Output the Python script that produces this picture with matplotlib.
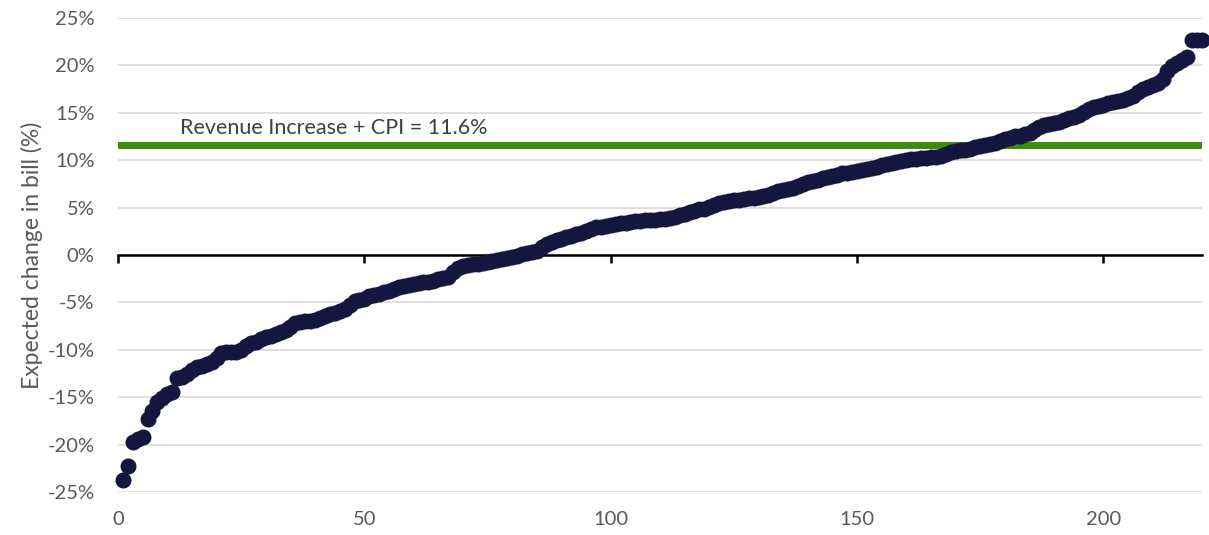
import matplotlib.pyplot as plt
from matplotlib.ticker import FuncFormatter

# expected change in bill (%) for each customer, sorted
bill_change = [
    -23.7, -22.3, -19.7, -19.4, -19.2, -17.3, -16.5, -15.5, -15.1, -14.7,
    -14.5, -13.0, -12.9, -12.6, -12.1, -11.8, -11.7, -11.5, -11.3, -10.9,
    -10.3, -10.2, -10.2, -10.2, -10.0, -9.6, -9.3, -9.2, -8.9, -8.7,
    -8.5, -8.3, -8.1, -7.9, -7.6, -7.2, -7.1, -7.0, -7.0, -6.9,
    -6.7, -6.4, -6.2, -6.1, -5.9, -5.7, -5.3, -4.9, -4.7, -4.6,
    -4.3, -4.2, -4.1, -3.9, -3.8, -3.6, -3.4, -3.3, -3.2, -3.1,
    -3.0, -2.9, -2.8, -2.7, -2.5, -2.4, -2.3, -1.8, -1.4, -1.2,
    -1.1, -1.0, -0.9, -0.8, -0.7, -0.6, -0.5, -0.4, -0.3, -0.2,
    -0.1, 0.1, 0.2, 0.3, 0.4, 0.8, 1.2, 1.4, 1.6, 1.7,
    1.9, 2.0, 2.2, 2.3, 2.5, 2.7, 2.9, 3.0, 3.1, 3.2,
    3.3, 3.35, 3.4, 3.5, 3.55, 3.6, 3.65, 3.7, 3.7, 3.75,
    3.8, 3.9, 4.0, 4.2, 4.3, 4.5, 4.6, 4.8, 4.9, 5.1,
    5.3, 5.5, 5.6, 5.7, 5.75, 5.8, 5.9, 6.0, 6.05, 6.1,
    6.2, 6.3, 6.5, 6.7, 6.9, 7.0, 7.1, 7.3, 7.5, 7.7,
    7.8, 7.9, 8.1, 8.2, 8.3, 8.4, 8.6, 8.7, 8.8, 8.9,
    9.0, 9.1, 9.2, 9.3, 9.5, 9.6, 9.7, 9.8, 9.9, 10.0,
    10.1, 10.15, 10.2, 10.25, 10.3, 10.35, 10.4, 10.6, 10.9, 11.0,
    11.05, 11.1, 11.2, 11.4, 11.5, 11.6, 11.7, 11.8, 12.0, 12.2,
    12.3, 12.5, 12.6, 12.8, 12.9, 13.2, 13.5, 13.7, 13.8, 13.9,
    14.0, 14.2, 14.4, 14.6, 14.8, 15.1, 15.4, 15.6, 15.7, 15.8,
    16.0, 16.1, 16.2, 16.4, 16.6, 16.8, 17.2, 17.5, 17.7, 17.9,
    18.1, 18.6, 19.4, 19.9, 20.3, 20.6, 20.9, 22.7, 22.7, 22.7,
]
customer = list(range(1, len(bill_change) + 1))
threshold = 11.6
threshold_label = 'Revenue Increase + CPI = 11.6%'
x_ticks = [0, 50, 100, 150, 200]
y_ticks = [-25, -20, -15, -10, -5, 0, 5, 10, 15, 20, 25]

plt.rcParams['font.family'] = ['Lato', 'DejaVu Sans']
grey = '#595959'

fig = plt.figure(figsize=(12.09, 5.35), dpi=100)
ax = fig.add_axes([0.0976, 0.0804, 0.8966, 0.886])

ax.set_xlim(0, 220)
ax.set_ylim(-25, 25)
ax.set_yticks(y_ticks)
ax.yaxis.set_major_formatter(FuncFormatter(lambda v, p: '%d%%' % v))
ax.grid(axis='y', color='#d9d9d9', linewidth=1.2, zorder=0)
ax.tick_params(axis='y', length=0, pad=17, labelsize=14.5, labelcolor=grey)

for s in ['top', 'right', 'left']:
    ax.spines[s].set_visible(False)
ax.spines['bottom'].set_position(('data', 0))
ax.spines['bottom'].set_linewidth(1.8)
ax.spines['bottom'].set_zorder(2)
ax.set_xticks(x_ticks)
ax.tick_params(axis='x', direction='out', length=6, width=1.8, labelbottom=False)

# tick labels sit at the bottom of the plot, not on the zero line
sec = ax.secondary_xaxis(0.0)
sec.set_xticks(x_ticks)
sec.tick_params(length=0, pad=14, labelsize=14.5, labelcolor=grey)
sec.spines['bottom'].set_visible(False)

ax.axhline(threshold, color='#3d8b0a', linewidth=5, zorder=3)
ax.text(12.6, threshold + 1.8, threshold_label, fontsize=15.5, color='#404040',
        va='center', ha='left')

ax.plot(customer, bill_change, 'o', color='#15163f', markersize=10.5,
        zorder=4, clip_on=False)

ax.set_ylabel('Expected change in bill (%)', fontsize=16.5, color=grey, labelpad=3)

plt.savefig('out.png', dpi=100)
